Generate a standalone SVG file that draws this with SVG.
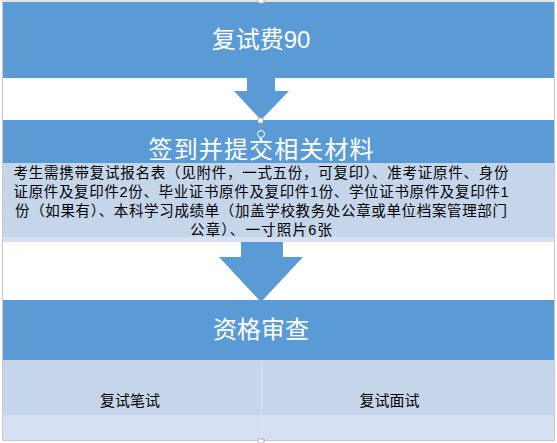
<svg xmlns="http://www.w3.org/2000/svg" width="557" height="443" viewBox="0 0 557 443">
<style>
.blue{fill:#5B9BD5}
.light{fill:#C5D5EA}
.lighter{fill:#D5E1F2}
.title{font-family:"Liberation Sans","Noto Sans CJK SC",sans-serif;font-size:24px;fill:#FFFFFF;text-anchor:middle}
.body{font-family:"Liberation Sans","Noto Sans CJK SC",sans-serif;font-size:14.5px;fill:#000000;text-anchor:middle}
.sub{font-family:"Liberation Sans","Noto Sans CJK SC",sans-serif;font-size:15px;fill:#000000;text-anchor:middle}
.handle{fill:#FFFFFF;stroke:#A0A0A0;stroke-width:0.8}
</style>
<rect x="0" y="0" width="557" height="443" fill="#FFFFFF"/>
<rect x="2.5" y="1" width="552" height="439.5" fill="none" stroke="#C8C8C8" stroke-width="1"/>
<g id="node-fee">
<rect class="blue" x="3" y="2" width="551" height="76"/>
<text class="title" x="261" y="48">复试费90</text>
</g>
<g id="connectors">
<polygon class="blue" points="247,78 275,78 275,91 289,91 261,120 234,91 247,91"/>
<polygon class="blue" points="241,240 283,240 283,257 303,257 261,302 219,257 241,257"/>
</g>
<g id="node-submit">
<rect class="blue" x="3" y="120" width="551" height="43"/>
<rect class="light" x="3" y="163" width="551" height="74"/>
<rect class="lighter" x="3" y="237" width="551" height="5"/>
<text class="title" x="261" y="158" font-size="25" textLength="225" lengthAdjust="spacing">签到并提交相关材料</text>
<text class="body" x="261" y="178" textLength="495" lengthAdjust="spacing">考生需携带复试报名表（见附件，一式五份，可复印）、准考证原件、身份</text>
<text class="body" x="261" y="197" textLength="495" lengthAdjust="spacing">证原件及复印件2份、毕业证书原件及复印件1份、学位证书原件及复印件1</text>
<text class="body" x="261" y="216" textLength="492" lengthAdjust="spacing">份（如果有）、本科学习成绩单（加盖学校教务处公章或单位档案管理部门</text>
<text class="body" x="261" y="235" textLength="142" lengthAdjust="spacing">公章）、一寸照片6张</text>
</g>
<g id="node-review">
<rect class="blue" x="3" y="300" width="551" height="60"/>
<text class="title" x="261" y="338">资格审查</text>
</g>
<g id="node-written">
<rect class="light" x="3" y="360" width="258" height="55"/>
<rect class="lighter" x="3" y="415" width="258" height="25"/>
<text class="sub" x="130" y="406">复试笔试</text>
</g>
<g id="node-interview">
<rect class="light" x="262" y="360" width="292" height="55"/>
<rect class="lighter" x="262" y="415" width="292" height="25"/>
<text class="sub" x="389.5" y="406">复试面试</text>
</g>
<line x1="261.5" y1="360" x2="261.5" y2="440" stroke="#DCE6F2" stroke-width="1"/>
<g id="handles">
<rect class="handle" x="258" y="-1" width="6" height="4"/>
<rect class="handle" x="258" y="118" width="5" height="5"/>
<line x1="260.5" y1="123" x2="260.5" y2="130" stroke="#A0A0A0" stroke-width="0.8"/>
<circle cx="261" cy="134" r="3.5" fill="none" stroke="#FFFFFF" stroke-width="1"/>
<rect class="handle" x="258" y="439" width="6" height="4"/>
</g>
</svg>
